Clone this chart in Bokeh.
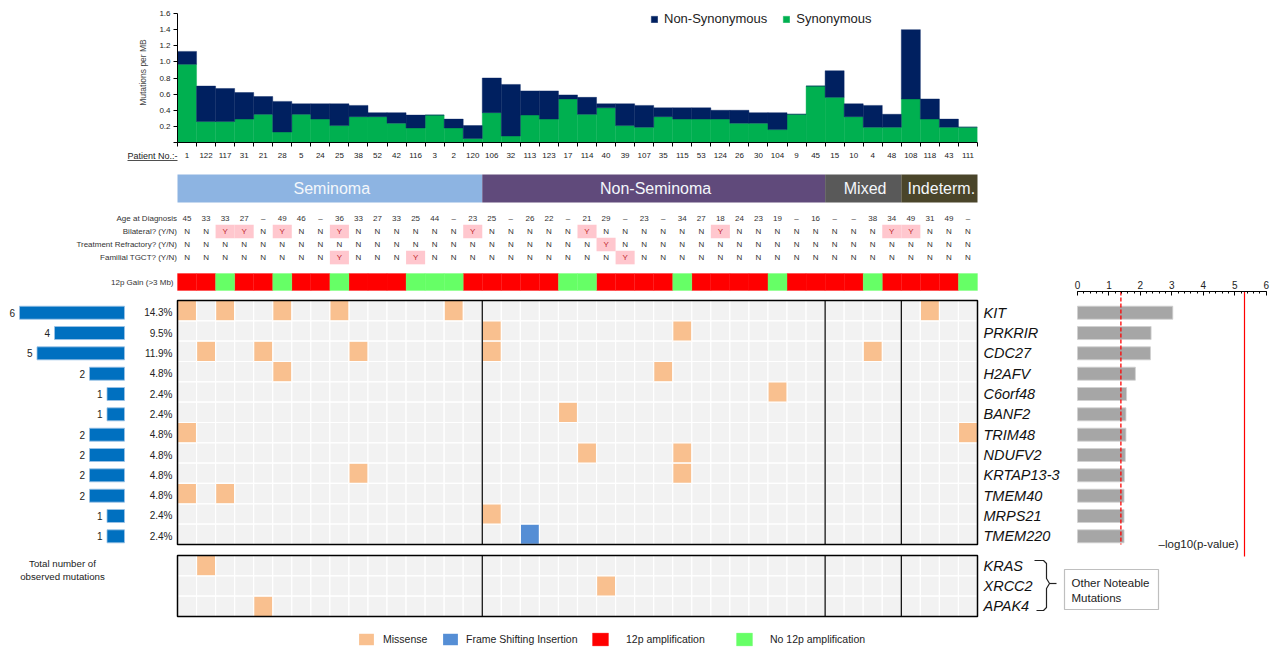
import numpy as np
from bokeh.plotting import figure
from bokeh.models import Range1d, FixedTicker, Legend, LegendItem, NumeralTickFormatter
from bokeh.layouts import column, row
from bokeh.embed import file_html
from bokeh.resources import INLINE
from bokeh.core.properties import value

FONT = "Liberation Sans"

# ---------------- data ----------------
patients = ["1", "122", "117", "31", "21", "28", "5", "24", "25", "38", "52", "42", "116", "3", "2", "120",
            "106", "32", "113", "123", "17", "114", "40", "39", "107", "35", "115", "53", "124", "26", "30",
            "104", "9", "45",
            "15", "10", "4", "48",
            "108", "118", "43", "111"]
syn_rate = [0.97, 0.26, 0.26, 0.29, 0.35, 0.13, 0.35, 0.29, 0.21, 0.32, 0.32, 0.24, 0.18, 0.34, 0.18, 0.05,
            0.37, 0.08, 0.34, 0.29, 0.54, 0.35, 0.43, 0.21, 0.19, 0.32, 0.29, 0.29, 0.29, 0.24, 0.24, 0.16,
            0.35, 0.70,
            0.56, 0.32, 0.19, 0.19,
            0.54, 0.29, 0.19, 0.19]
total_rate = [1.13, 0.70, 0.67, 0.62, 0.57, 0.51, 0.48, 0.48, 0.48, 0.46, 0.37, 0.37, 0.34, 0.34, 0.29, 0.21,
              0.80, 0.72, 0.64, 0.64, 0.59, 0.56, 0.48, 0.48, 0.46, 0.43, 0.43, 0.43, 0.40, 0.40, 0.37, 0.37,
              0.35, 0.70,
              0.89, 0.48, 0.46, 0.35,
              1.40, 0.54, 0.29, 0.19]

group_names = ["Seminoma", "Non-Seminoma", "Mixed", "Indeterm."]
group_sizes = [16, 18, 4, 4]

age = ["45", "33", "33", "27", "–", "49", "46", "–", "36", "33", "27", "33", "25", "44", "–", "23",
       "25", "–", "26", "22", "–", "21", "29", "–", "23", "–", "34", "27", "18", "24", "23", "19", "–", "16",
       "–", "–", "38", "34",
       "49", "31", "49", "–"]
bilateral = list("NNYYNYNNYNNNNNNY" + "NNNNNYNNNNNNYNNNNN" + "NNNY" + "YNNN")
refractory = list("NNNNNNNNNNNNNNNN" + "NNNNNNYNNNNNNNNNNN" + "NNNN" + "NNNN")
familial = list("NNNNNNNNYNNNYNNN" + "NNNNNNNYNNNNNNNNNN" + "NNNN" + "NNNN")
gain_12p = [1, 1, 0, 1, 1, 0, 1, 1, 0, 1, 1, 1, 0, 0, 0, 1,
            1, 1, 1, 1, 0, 0, 1, 1, 1, 1, 0, 1, 1, 1, 1, 0, 1, 1,
            1, 1, 0, 1,
            1, 1, 1, 0]

genes = ["KIT", "PRKRIR", "CDC27", "H2AFV", "C6orf48", "BANF2", "TRIM48", "NDUFV2", "KRTAP13-3",
         "TMEM40", "MRPS21", "TMEM220"]
gene_counts = [6, 4, 5, 2, 1, 1, 2, 2, 2, 2, 1, 1]
neg_log10_p = [3.03, 2.34, 2.32, 1.84, 1.56, 1.54, 1.54, 1.52, 1.49, 1.48, 1.48, 1.48]
sig_threshold = 1.38
strict_threshold = 5.31
other_genes = ["KRAS", "XRCC2", "APAK4"]

mut_gene = ["KIT"] * 6 + ["PRKRIR"] * 2 + ["CDC27"] * 5 + ["H2AFV"] * 2 + ["C6orf48", "BANF2"] + \
           ["TRIM48"] * 2 + ["NDUFV2"] * 2 + ["KRTAP13-3"] * 2 + ["TMEM40"] * 2 + ["MRPS21", "TMEM220"] + \
           ["KRAS", "XRCC2", "APAK4"]
mut_patient = ["1", "117", "28", "25", "2", "118", "106", "115", "122", "21", "38", "106", "4", "28", "35",
               "104", "17", "1", "111", "114", "115", "38", "115", "1", "117", "106", "113",
               "122", "40", "21"]
mut_type = ["Missense"] * 26 + ["Frame Shifting Insertion"] + ["Missense"] * 3

# ---------------- styles / layout ----------------
NAVY, GREEN = "#002060", "#00B050"
MISSENSE_C, FRAME_C, AMP_C, NOAMP_C = "#F9C08F", "#558ED5", "#FF0000", "#66FF66"
CELL_C = "#F2F2F2"
TXT = "#222222"
group_colors = ["#8DB4E2", "#604A7B", "#595959", "#4A452A"]

n = len(patients)
cols = np.arange(n)
pidx = {p: i for i, p in enumerate(patients)}

TOTAL_W = 1274
GRID_L, GRID_R = 177, 977
COLW = (GRID_R - GRID_L) / n


def colx(px):
    return (px - GRID_L) / COLW - 0.5


def common(p):
    p.grid.visible = False
    p.outline_line_color = None
    p.background_fill_color = "white"
    p.border_fill_color = "white"


# ================= top: mutation rate bars =================
TOP_H = 148
FRAME_T, FRAME_B = 2, 142           # frame extends above the 1.6 tick so the legend is not clipped
Y_PX = 129 / 1.6                    # pixels per unit of mutations/MB
top = figure(width=TOTAL_W, height=TOP_H, x_range=Range1d(-0.5, n - 0.5),
             y_range=Range1d(0, (FRAME_B - FRAME_T) / Y_PX),
             output_backend="svg", toolbar_location=None, frame_align=False,
             min_border_left=GRID_L, min_border_right=TOTAL_W - GRID_R,
             min_border_top=FRAME_T, min_border_bottom=TOP_H - FRAME_B)
common(top)
r_syn = top.vbar(x=cols, bottom=0, top=syn_rate, width=1.0, fill_color=GREEN, line_color=GREEN, line_width=0.4)
r_non = top.vbar(x=cols, bottom=syn_rate, top=total_rate, width=1.0, fill_color=NAVY, line_color=NAVY,
                 line_width=0.4)

xa = top.xaxis[0]
xa.ticker = FixedTicker(ticks=[], minor_ticks=[float(c) - 0.5 for c in range(n + 1)])
xa.major_tick_line_color = None
xa.major_tick_out = 0
xa.major_tick_in = 0
xa.minor_tick_out = 4
xa.minor_tick_in = 0
xa.minor_tick_line_color = "black"
xa.axis_line_color = "black"
xa.major_label_standoff = 0
xa.major_label_text_font_size = "1px"

ya = top.yaxis[0]
ya.bounds = (0, 1.6)
ya.ticker = FixedTicker(ticks=[round(0.2 * i, 1) for i in range(9)])
ya.formatter = NumeralTickFormatter(format="0.0")
ya.major_label_overrides = {0: ""}
ya.major_tick_out = 4
ya.major_tick_in = 0
ya.minor_tick_line_color = None
ya.major_label_standoff = 3
ya.major_label_text_font = FONT
ya.major_label_text_font_size = "8px"
ya.major_label_text_color = TXT
ya.axis_label = "Mutations per MB"
ya.axis_label_text_font = FONT
ya.axis_label_text_font_style = "normal"
ya.axis_label_text_font_size = "8.5px"
ya.axis_label_standoff = 8

leg_top = Legend(items=[LegendItem(label="Non-Synonymous", renderers=[r_non]),
                        LegendItem(label="Synonymous", renderers=[r_syn])],
                 orientation="horizontal", location=(473, 116), glyph_width=8, glyph_height=8,
                 label_height=15, label_standoff=6, spacing=15, padding=0, margin=0,
                 border_line_color=None, background_fill_alpha=0,
                 label_text_font=FONT, label_text_font_size="13px", label_text_color=TXT)
top.add_layout(leg_top)

# ================= middle: patient ids, subtype band, clinical table =================
MID_TOP, MID_BOT = TOP_H, 266


def MY(py):
    return (py - 218) / 13.0


mid = figure(width=TOTAL_W, height=MID_BOT - MID_TOP,
             x_range=Range1d(colx(0), colx(TOTAL_W)), y_range=Range1d(MY(MID_BOT), MY(MID_TOP)),
             output_backend="svg", toolbar_location=None, x_axis_location=None, y_axis_location=None,
             frame_align=False, min_border=0, min_border_left=0, min_border_right=0, min_border_top=0,
             min_border_bottom=0)
common(mid)
mid.text(x=cols, y=MY(155), text=patients, text_color=TXT, text_font=value(FONT), text_font_size="8px",
         text_align="center", text_baseline="middle")
mid.text(x=colx(177), y=MY(155), text=["Patient No.:-"], text_color=TXT, text_font=value(FONT),
         text_font_size="9px", text_align="right", text_baseline="middle")
mid.segment(x0=colx(127), y0=MY(160), x1=colx(177), y1=MY(160), line_color=TXT, line_width=0.8)

g_start = np.concatenate([[0], np.cumsum(group_sizes)[:-1]])
g_end = np.cumsum(group_sizes)
mid.quad(left=g_start - 0.5, right=g_end - 0.5, top=MY(174), bottom=MY(202), fill_color=group_colors,
         line_color=None)
mid.text(x=(g_start + g_end) / 2 - 0.5 + 0.1, y=MY(188), text=group_names, text_color="#F4F7FB",
         text_font=value(FONT), text_font_size="16px", text_align="center", text_baseline="middle")

table_labels = ["Age at Diagnosis", "Bilateral? (Y/N)", "Treatment Refractory? (Y/N)", "Familial TGCT? (Y/N)"]
table_rows = [age, bilateral, refractory, familial]
for k, vals in enumerate(table_rows):
    yx = [c for c in cols if vals[c] == "Y"]
    if yx:
        mid.rect(x=yx, y=k, width=1.0, height=1.05, fill_color="#FFC7CE", line_color=None)
    colors = ["#C0282D" if v == "Y" else "#333333" for v in vals]
    mid.text(x=cols, y=k, text=vals, text_color=colors, text_font=value(FONT), text_font_size="8px",
             text_align="center", text_baseline="middle")
mid.text(x=colx(176.5), y=list(range(4)), text=table_labels, text_color="#333333", text_font=value(FONT),
         text_font_size="8px", text_align="right", text_baseline="middle")

# ================= lower: mutation grid =================
LOW_TOP, LOW_BOT = MID_BOT, 656
GRID_TOP = 300
ROWH = 20.33
SPLIT = 979


def GY(py):
    return (py - GRID_TOP) / ROWH


BOT0 = GY(555)
ng = len(genes)
grid = figure(width=SPLIT, height=LOW_BOT - LOW_TOP,
              x_range=Range1d(colx(0), colx(SPLIT)), y_range=Range1d(GY(LOW_BOT), GY(LOW_TOP)),
              output_backend="svg", toolbar_location=None, x_axis_location=None, y_axis_location=None,
              frame_align=False, min_border=0, min_border_left=0, min_border_right=0, min_border_top=0,
              min_border_bottom=0)
common(grid)
grid.extra_x_ranges = {"count": Range1d(124 / 17.5, (124 - SPLIT) / 17.5)}

# 12p gain row
gy12 = GY(281.5)
gh12 = 17 / ROWH
r_amp = grid.rect(x=[c for c in cols if gain_12p[c] == 1], y=gy12, width=1.0, height=gh12,
                  fill_color=AMP_C, line_color=AMP_C, line_width=0.3)
r_noamp = grid.rect(x=[c for c in cols if gain_12p[c] == 0], y=gy12, width=1.0, height=gh12,
                    fill_color=NOAMP_C, line_color=NOAMP_C, line_width=0.3)
grid.text(x=colx(173), y=gy12, text=["12p Gain (>3 Mb)"], text_color="#333333", text_font=value(FONT),
          text_font_size="8px", text_align="right", text_baseline="middle")

# background cells
row_y = {g: i + 0.5 for i, g in enumerate(genes)}
row_y.update({g: BOT0 + k + 0.5 for k, g in enumerate(other_genes)})
all_rows = list(row_y.values())
bx = [c for y in all_rows for c in cols]
by = [y for y in all_rows for c in cols]
grid.rect(x=bx, y=by, width=1.0, height=1.0, fill_color=CELL_C, line_color="white", line_width=1.2)

mx = [pidx[p] for p, t in zip(mut_patient, mut_type) if t == "Missense"]
my = [row_y[g] for g, t in zip(mut_gene, mut_type) if t == "Missense"]
fx = [pidx[p] for p, t in zip(mut_patient, mut_type) if t != "Missense"]
fy = [row_y[g] for g, t in zip(mut_gene, mut_type) if t != "Missense"]
r_mis = grid.rect(x=mx, y=my, width=1.0, height=1.0, fill_color=MISSENSE_C, line_color="white", line_width=1.2)
r_fs = grid.rect(x=fx, y=fy, width=1.0, height=1.0, fill_color=FRAME_C, line_color="white", line_width=1.2)

# group dividers and borders
div_x = list(np.cumsum(group_sizes)[:-1] - 0.5)
grid.segment(x0=div_x, y0=0, x1=div_x, y1=ng, line_color="black", line_width=1.2)
grid.segment(x0=div_x, y0=BOT0, x1=div_x, y1=BOT0 + len(other_genes), line_color="black", line_width=1.2)
grid.quad(left=-0.5, right=n - 0.5, top=[0, BOT0], bottom=[ng, BOT0 + len(other_genes)], fill_color=None,
          line_color="black", line_width=1.5)

# mutation counts (left)
cy = [i + 0.6 for i in range(ng)]
grid.hbar(y=cy, left=0, right=gene_counts, height=0.64, x_range_name="count", fill_color="#0070C0",
          line_color="#9DC3E6", line_width=0.8)
grid.text(x=[c + 0.25 for c in gene_counts], y=cy, text=[str(c) for c in gene_counts], x_range_name="count",
          text_font=value(FONT), text_font_size="10px", text_color=TXT, text_align="right",
          text_baseline="middle")
pct = ["%.1f%%" % (100.0 * c / n) for c in gene_counts]
grid.text(x=colx(172), y=cy, text=pct, text_font=value(FONT), text_font_size="10px", text_color=TXT,
          text_align="right", text_baseline="middle")
grid.text(x=colx(62), y=[GY(563), GY(576)], text=["Total number of", "observed mutations"],
          text_font=value(FONT), text_font_size="9.7px", text_color=TXT, text_align="center",
          text_baseline="middle")

# legend: one entry per item so that each sits where the reference puts it
legend_entries = [("Missense", r_mis, 356, 7), ("Frame Shifting Insertion", r_fs, 440, 6),
                  ("12p amplification", r_amp, 590, 16), ("No 12p amplification", r_noamp, 734, 16)]
for lab, rend, gx, standoff in legend_entries:
    grid.add_layout(Legend(items=[LegendItem(label=lab, renderers=[rend])],
                           orientation="horizontal", location=(gx, 9), glyph_width=20, glyph_height=16,
                           label_height=16, label_standoff=standoff, padding=0, margin=0,
                           border_line_color=None, background_fill_alpha=0,
                           label_text_font=FONT, label_text_font_size="10.5px", label_text_color=TXT))

# ================= right: gene names + p-values =================
AX_TOP = 291


def RX(px):
    return (px - 1077) / 31.45


right = figure(width=TOTAL_W - SPLIT, height=LOW_BOT - LOW_TOP,
               x_range=Range1d(RX(SPLIT), RX(TOTAL_W)), y_range=Range1d(GY(LOW_BOT), GY(AX_TOP)),
               output_backend="svg", toolbar_location=None, x_axis_location="above", y_axis_location=None,
               frame_align=False, min_border_top=AX_TOP - LOW_TOP, min_border_left=0, min_border_right=0,
               min_border_bottom=0)
common(right)
ra = right.xaxis[0]
ra.bounds = (0, 6)
ra.ticker = FixedTicker(ticks=list(range(7)), minor_ticks=[round(0.2 * i, 1) for i in range(31)])
ra.major_tick_in = 4
ra.major_tick_out = 0
ra.minor_tick_in = 2
ra.minor_tick_out = 0
ra.major_label_standoff = 3
ra.major_label_text_font = FONT
ra.major_label_text_font_size = "10px"
ra.major_label_text_color = TXT
ra.axis_line_color = "black"

right.text(x=RX(983), y=cy, text=genes, text_font=value(FONT), text_font_style="italic",
           text_font_size="14.5px", text_color="#111111", text_align="left", text_baseline="middle")
right.text(x=RX(983), y=[BOT0 + k + 0.5 for k in range(len(other_genes))], text=other_genes,
           text_font=value(FONT), text_font_style="italic", text_font_size="14.5px", text_color="#111111",
           text_align="left", text_baseline="middle")
right.hbar(y=cy, left=0, right=neg_log10_p, height=0.64, fill_color="#A6A6A6", line_color="#D0D0D0",
           line_width=0.8)
right.segment(x0=sig_threshold, y0=GY(AX_TOP), x1=sig_threshold, y1=GY(544), line_color="#FF0000",
              line_width=1.3, line_dash="4 2")
right.segment(x0=strict_threshold, y0=GY(AX_TOP), x1=strict_threshold, y1=GY(556), line_color="#FF0000",
              line_width=1.2)
right.text(x=RX(1238), y=GY(543), text=["–log10(p-value)"], text_font=value(FONT), text_font_size="11.5px",
           text_color=TXT, text_align="right", text_baseline="middle")

# bracket and box
br_x = [1034, 1043, 1046, 1046, 1049, 1046, 1046, 1043, 1036]
br_y = [560, 560, 563, 578, 583, 588, 607, 610, 610]
right.line(x=[RX(v) for v in br_x], y=[GY(v) for v in br_y], line_color=TXT, line_width=1.2)
right.segment(x0=RX(1049), y0=GY(583), x1=RX(1056), y1=GY(583), line_color=TXT, line_width=1.2)
right.quad(left=RX(1064), right=RX(1158), top=GY(569), bottom=GY(609), fill_color="white",
           line_color="#BFBFBF", line_width=1.2)
right.text(x=RX(1071), y=[GY(582), GY(597)], text=["Other Noteable", "Mutations"], text_font=value(FONT),
           text_font_size="11.5px", text_color=TXT, text_align="left", text_baseline="middle")

layout = column(top, mid, row(grid, right, spacing=0), spacing=0)
open("out.html", "w").write(file_html(layout, INLINE))
